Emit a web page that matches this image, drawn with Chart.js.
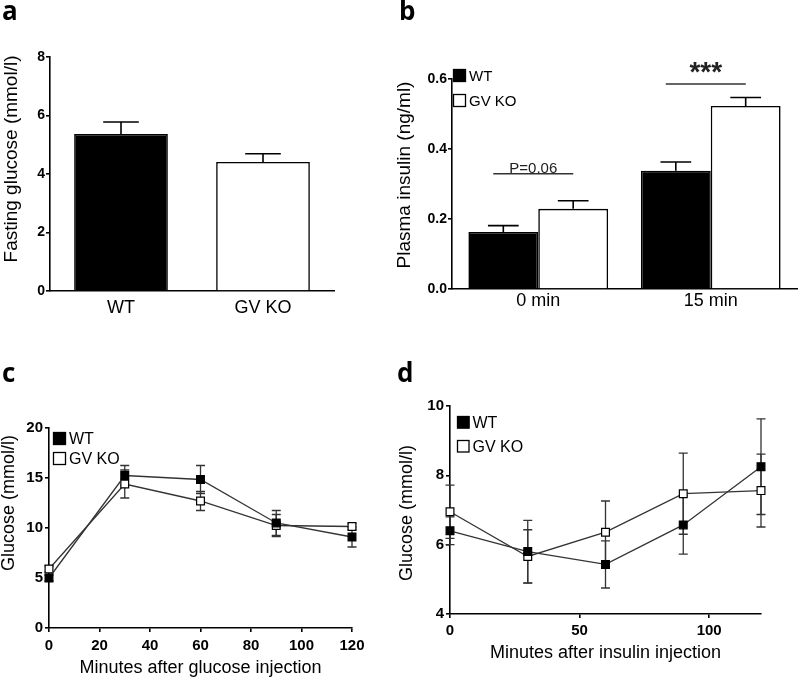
<!DOCTYPE html>
<html>
<head>
<meta charset="utf-8">
<title>Glucose and insulin, WT vs GV KO</title>
<script src="https://cdn.jsdelivr.net/npm/chart.js@4.4.1/dist/chart.umd.min.js"></script>
<style>
  html, body { margin: 0; padding: 0; background: #fff; }
  #wrap { position: relative; width: 800px; height: 679px; overflow: hidden; }
  #wrap canvas { position: absolute; left: 0; top: 0; }
  .tag { position: absolute; font: bold 26px "Open Sans", sans-serif; line-height: 1; color: #000; }
</style>
</head>
<body>
<div id="wrap">
  <canvas id="chartA" width="800" height="679"></canvas>
  <canvas id="chartB" width="800" height="679"></canvas>
  <canvas id="chartC" width="800" height="679"></canvas>
  <canvas id="chartD" width="800" height="679"></canvas>
  <div class="tag" style="left:2px; top:-3px;">a</div>
  <div class="tag" style="left:399px; top:-3px;">b</div>
  <div class="tag" style="left:2px; top:359px;">c</div>
  <div class="tag" style="left:397px; top:359px;">d</div>
</div>
<script>
// panel a - fasting glucose
const aGroups = ['WT', 'GV KO'];
const aGlucose = [5.37, 4.41];
const aGlucoseSem = [0.41, 0.28];

// panel b - plasma insulin
const bTimes = ['0 min', '15 min'];
const bInsulinWT = [0.163, 0.338];
const bInsulinWTSem = [0.018, 0.025];
const bInsulinKO = [0.229, 0.523];
const bInsulinKOSem = [0.023, 0.024];
const bSigText = ['P=0.06', '***'];
const bSigLevel = [0.329, 0.586];

// panel c - glucose tolerance
const cMinutes = [0, 30, 60, 90, 120];
const cGlucoseWT = [5.0, 15.25, 14.85, 10.5, 9.1];
const cGlucoseWTSem = [0.3, 1.0, 1.4, 1.25, 1.0];
const cGlucoseKO = [5.9, 14.4, 12.7, 10.25, 10.15];
const cGlucoseKOSem = [0.3, 1.4, 0.95, 1.1, 0.3];

// panel d - insulin tolerance
const dMinutes = [0, 30, 60, 90, 120];
const dGlucoseWT = [6.4, 5.8, 5.43, 6.57, 8.25];
const dGlucoseWTSem = [0.4, 0.9, 0.68, 0.84, 1.38];
const dGlucoseKO = [6.95, 5.66, 6.36, 7.47, 7.56];
const dGlucoseKOSem = [0.77, 0.77, 0.9, 1.17, 1.05];

Chart.defaults.font.family = "'Liberation Sans', Arial, sans-serif";
Chart.defaults.color = '#000';

// error bars, drawn from the y scale
function drawErrors(chart, opts) {
  const ctx = chart.ctx;
  const y = chart.scales.y;
  ctx.save();
  ctx.strokeStyle = opts.color;
  ctx.lineWidth = opts.width;
  chart.data.datasets.forEach((ds, di) => {
    const meta = chart.getDatasetMeta(di);
    meta.data.forEach((el, i) => {
      const d = ds.data[i];
      const v = typeof d === 'object' ? d.y : d;
      const top = y.getPixelForValue(v + ds.sem[i]);
      const bot = opts.upOnly ? y.getPixelForValue(v) : y.getPixelForValue(v - ds.sem[i]);
      const half = opts.capRatio ? el.width * opts.capRatio : opts.cap;
      ctx.beginPath();
      ctx.moveTo(el.x, top); ctx.lineTo(el.x, bot);
      ctx.moveTo(el.x - half, top); ctx.lineTo(el.x + half, top);
      if (!opts.upOnly) { ctx.moveTo(el.x - half, bot); ctx.lineTo(el.x + half, bot); }
      ctx.stroke();
    });
  });
  ctx.restore();
}
const errorBars = {
  id: 'errorBars',
  defaults: { color: '#000', width: 1.6, behind: false, upOnly: false, cap: 4.5, capRatio: 0 },
  beforeDatasetsDraw(chart, args, opts) { if (opts.behind) drawErrors(chart, opts); },
  afterDatasetsDraw(chart, args, opts) { if (!opts.behind) drawErrors(chart, opts); }
};

// rotated y title at a fixed spot
const yTitle = {
  id: 'yTitle',
  afterDraw(chart, args, opts) {
    const ctx = chart.ctx;
    ctx.save();
    ctx.translate(opts.x, opts.y);
    ctx.rotate(-Math.PI / 2);
    ctx.font = opts.size + "px 'Liberation Sans', Arial, sans-serif";
    ctx.fillStyle = '#000';
    ctx.textAlign = 'center';
    ctx.textBaseline = 'middle';
    ctx.fillText(opts.text, 0, 0);
    ctx.restore();
  }
};

// square-box legend inside the plot
const boxLegend = {
  id: 'boxLegend',
  afterDraw(chart, args, opts) {
    const ctx = chart.ctx;
    ctx.save();
    ctx.font = opts.size + "px 'Liberation Sans', Arial, sans-serif";
    ctx.textBaseline = 'middle';
    chart.data.datasets.forEach((ds, i) => {
      const top = opts.y + i * opts.gap;
      ctx.fillStyle = ds.legendFill;
      ctx.fillRect(opts.x, top, opts.box, opts.box);
      ctx.strokeStyle = '#000';
      ctx.lineWidth = 1.3;
      ctx.strokeRect(opts.x + 0.5, top + 0.5, opts.box - 1, opts.box - 1);
      ctx.fillStyle = '#000';
      ctx.fillText(ds.label, opts.x + opts.box + 3, top + opts.box / 2 + 1);
    });
    ctx.restore();
  }
};

// significance bars over the groups in panel b
const sigBars = {
  id: 'sigBars',
  afterDraw(chart, args, opts) {
    const ctx = chart.ctx;
    const x = chart.scales.x, y = chart.scales.y;
    ctx.save();
    bSigText.forEach((t, i) => {
      const cx = x.getPixelForValue(i) + opts.dx;
      const py = y.getPixelForValue(bSigLevel[i]);
      ctx.strokeStyle = '#333';
      ctx.lineWidth = 1.5;
      ctx.beginPath();
      ctx.moveTo(cx - opts.half, py); ctx.lineTo(cx + opts.half, py);
      ctx.stroke();
      ctx.fillStyle = '#222';
      ctx.textAlign = 'center';
      ctx.textBaseline = 'alphabetic';
      ctx.font = opts.fonts[i];
      ctx.fillText(t, cx, py + opts.textDy[i]);
    });
    ctx.restore();
  }
};

function catAxis(pad) {
  return {
    grid: { display: false, drawTicks: false },
    border: { display: true, color: '#000', width: 1.6 },
    ticks: { color: '#000', font: { size: 18 }, padding: pad },
    afterFit: s => { s.height = 40; }
  };
}

function valueAxis(min, max, step, size, pad, fmt) {
  const ax = {
    min: min, max: max,
    grid: { display: true, drawOnChartArea: false, drawTicks: true, tickLength: 4, color: '#000', lineWidth: 1.6 },
    border: { display: true, color: '#000', width: 1.6 },
    ticks: { stepSize: step, color: '#000', font: { size: size, weight: 'bold' }, padding: pad },
    afterFit: s => { s.width = 40; }
  };
  if (fmt) ax.ticks.callback = fmt;
  return ax;
}

function minutesAxis(step, pad, h, title) {
  return {
    type: 'linear', min: 0, max: 120,
    grid: { display: true, drawOnChartArea: false, drawTicks: true, tickLength: 4, color: '#000', lineWidth: 1.6 },
    border: { display: true, color: '#000', width: 1.6 },
    ticks: { stepSize: step, includeBounds: false, color: '#000', font: { size: 15, weight: 'bold' }, padding: pad },
    title: { display: true, text: title, color: '#000', font: { size: 18 }, padding: { top: 0, bottom: 0 } },
    afterFit: s => { s.height = h; }
  };
}

function lineSet(label, xs, ys, sem, fill) {
  return {
    label: label,
    data: xs.map((m, i) => ({ x: m, y: ys[i] })),
    sem: sem,
    legendFill: fill,
    borderColor: '#333',
    borderWidth: 1.3,
    pointStyle: 'rect',
    pointRadius: 5.5,
    pointBackgroundColor: fill,
    pointBorderColor: '#000',
    pointBorderWidth: 1.2,
    tension: 0,
    clip: false
  };
}

const common = { responsive: false, animation: false, events: [] };

// a
new Chart(document.getElementById('chartA'), {
  type: 'bar',
  data: {
    labels: aGroups,
    datasets: [{
      label: 'Fasting glucose',
      data: aGlucose,
      sem: aGlucoseSem,
      backgroundColor: ['#000', '#fff'],
      borderColor: '#000',
      borderWidth: 1.6,
      categoryPercentage: 0.66,
      barPercentage: 1
    }]
  },
  options: Object.assign({}, common, {
    layout: { padding: { left: 10, right: 466, top: 57, bottom: 348 } },
    scales: { x: catAxis(6), y: valueAxis(0, 8, 2, 14, 1) },
    plugins: {
      legend: { display: false }, tooltip: { enabled: false },
      errorBars: { upOnly: true, capRatio: 0.19 },
      yTitle: { text: 'Fasting glucose (mmol/l)', x: 12, y: 159, size: 19 }
    }
  }),
  plugins: [errorBars, yTitle]
});

// b
new Chart(document.getElementById('chartB'), {
  type: 'bar',
  data: {
    labels: bTimes,
    datasets: [
      { label: 'WT', data: bInsulinWT, sem: bInsulinWTSem, legendFill: '#000',
        backgroundColor: '#000', borderColor: '#000', borderWidth: 1.6,
        categoryPercentage: 0.81, barPercentage: 1 },
      { label: 'GV KO', data: bInsulinKO, sem: bInsulinKOSem, legendFill: '#fff',
        backgroundColor: '#fff', borderColor: '#000', borderWidth: 1.6,
        categoryPercentage: 0.81, barPercentage: 1 }
    ]
  },
  options: Object.assign({}, common, {
    layout: { padding: { left: 412, right: 3, top: 79, bottom: 350 } },
    scales: { x: catAxis(1), y: valueAxis(0, 0.6, 0.2, 14, 1, v => v.toFixed(1)) },
    plugins: {
      legend: { display: false }, tooltip: { enabled: false },
      errorBars: { upOnly: true, capRatio: 0.22 },
      yTitle: { text: 'Plasma insulin (ng/ml)', x: 405, y: 175, size: 19 },
      boxLegend: { x: 453, y: 69, box: 13, gap: 25, size: 15 },
      sigBars: { dx: -5, half: 40, textDy: [-1, -3], fonts: ["15px 'Liberation Sans', Arial", "bold 28px 'Liberation Sans', Arial"] }
    }
  }),
  plugins: [errorBars, yTitle, boxLegend, sigBars]
});

// c
new Chart(document.getElementById('chartC'), {
  type: 'line',
  data: {
    datasets: [
      lineSet('WT', cMinutes, cGlucoseWT, cGlucoseWTSem, '#000'),
      lineSet('GV KO', cMinutes, cGlucoseKO, cGlucoseKOSem, '#fff')
    ]
  },
  options: Object.assign({}, common, {
    layout: { padding: { left: 9, right: 448, top: 428, bottom: 0 } },
    scales: {
      x: minutesAxis(20, 4.6, 51, 'Minutes after glucose injection'),
      y: valueAxis(0, 20, 5, 15, 2)
    },
    plugins: {
      legend: { display: false }, tooltip: { enabled: false },
      errorBars: { behind: true, color: '#333', width: 1.3, cap: 4.5 },
      yTitle: { text: 'Glucose (mmol/l)', x: 9, y: 503, size: 18 },
      boxLegend: { x: 53, y: 432, box: 13, gap: 20, size: 16 }
    }
  }),
  plugins: [errorBars, yTitle, boxLegend]
});

// d
new Chart(document.getElementById('chartD'), {
  type: 'line',
  data: {
    datasets: [
      lineSet('WT', dMinutes, dGlucoseWT, dGlucoseWTSem, '#000'),
      lineSet('GV KO', dMinutes, dGlucoseKO, dGlucoseKOSem, '#fff')
    ]
  },
  options: Object.assign({}, common, {
    layout: { padding: { left: 410, right: 39, top: 406, bottom: 15 } },
    scales: {
      x: minutesAxis(50, 3.6, 50, 'Minutes after insulin injection'),
      y: valueAxis(4, 10, 2, 15, 2)
    },
    plugins: {
      legend: { display: false }, tooltip: { enabled: false },
      errorBars: { behind: true, color: '#333', width: 1.3, cap: 4.5 },
      yTitle: { text: 'Glucose (mmol/l)', x: 407, y: 513, size: 18 },
      boxLegend: { x: 457, y: 416, box: 12.5, gap: 24, size: 16 }
    }
  }),
  plugins: [errorBars, yTitle, boxLegend]
});
</script>
</body>
</html>
